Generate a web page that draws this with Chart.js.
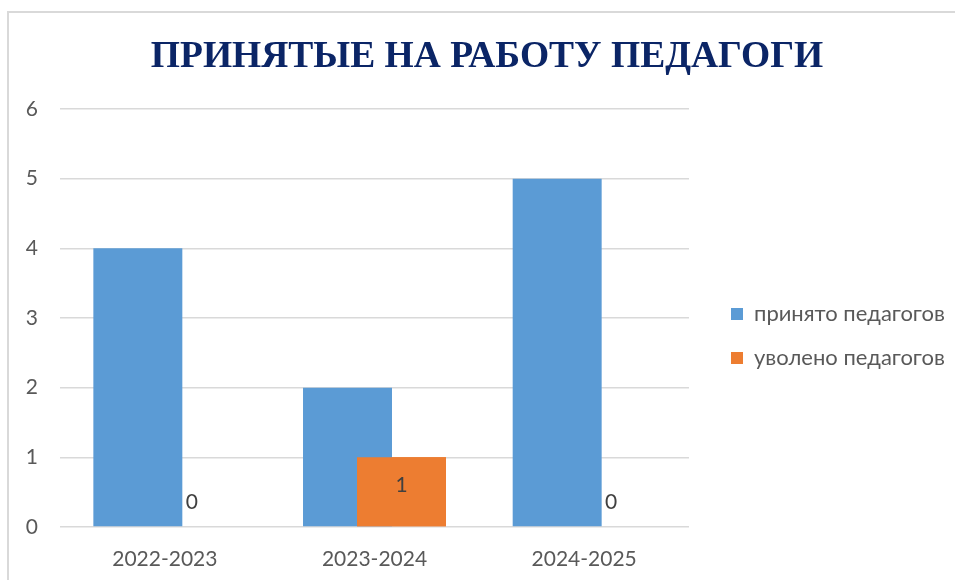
<!DOCTYPE html>
<html>
<head>
<meta charset="utf-8">
<script src="https://cdn.jsdelivr.net/npm/chart.js@4.4.1/dist/chart.umd.min.js"></script>
<style>
  html, body { margin: 0; padding: 0; background: #fff; overflow: hidden; }
  #frame { position: absolute; left: 7px; top: 11px; width: 957px; height: 570px; border: 2px solid #d9d9d9; }
  #chart { display: block; }
</style>
</head>
<body>
<div id="frame"><canvas id="chart" width="957" height="570"></canvas></div>
<script>
const categories = ['2022-2023', '2023-2024', '2024-2025'];
const hiredLabel = 'принято педагогов';
const firedLabel = 'уволено педагогов';
const hired = [4, 2, 5];
const fired = [0, 1, 0];
const yTicks = [0, 1, 2, 3, 4, 5, 6];

const tickFont = { family: 'Lato', size: 21 };
const legendFont = { family: 'Lato', size: 22 };
const grey = '#595959';

// legend width = padding + box + size/2 + text + 10; keeps the legend where it
// sits in the original and the title centred on the frame
const mctx = document.createElement('canvas').getContext('2d');
mctx.font = '22px Lato';
const textW = Math.max(mctx.measureText(hiredLabel).width, mctx.measureText(firedLabel).width);
mctx.font = '21px Lato';
const digitW = mctx.measureText('0').width;
const legendW = 22 + 12 + 11 + textW + 10;
const padRight = 957 - 700 - legendW;
const padLeft = 956 - 700 - legendW;
const yAxisW = 51 - padLeft;

// value labels for the second series only, and that series drawn over the first
const valueLabels = {
  id: 'valueLabels',
  afterDatasetsDraw(chart){
    const ctx = chart.ctx;
    const meta = chart.getDatasetMeta(1);
    meta.controller.draw();
    ctx.save();
    ctx.font = '21px Lato';
    ctx.fillStyle = '#404040';
    ctx.textAlign = 'center';
    ctx.textBaseline = 'middle';
    meta.data.forEach((bar, i) => {
      const v = fired[i];
      const y = v > 0 ? bar.y + 28 : bar.y - 25;
      ctx.fillText(String(v), bar.x, y);
    });
    ctx.restore();
  }
};

new Chart(document.getElementById('chart'), {
  type: 'bar',
  data: {
    labels: categories,
    datasets: [
      { label: hiredLabel, data: hired, backgroundColor: '#5B9BD5', categoryPercentage: 0.515, barPercentage: 1.648 },
      { label: firedLabel, data: fired, backgroundColor: '#ED7D31', categoryPercentage: 0.515, barPercentage: 1.648 }
    ]
  },
  options: {
    responsive: false,
    animation: false,
    layout: { padding: { left: padLeft, right: padRight, top: 0, bottom: 12 } },
    plugins: {
      title: {
        display: true,
        text: 'ПРИНЯТЫЕ НА РАБОТУ ПЕДАГОГИ',
        color: '#0B2566',
        font: { family: 'Liberation Serif', size: 37.5, weight: 'bold' },
        padding: { top: 22, bottom: 29 }
      },
      legend: {
        position: 'right',
        maxWidth: 400,
        title: { display: true, text: '', font: { size: 20 }, padding: { top: 64, bottom: 0 } },
        labels: { boxWidth: 12, boxHeight: 12, padding: 22, color: grey, font: legendFont }
      },
      tooltip: { enabled: false }
    },
    scales: {
      x: {
        grid: { display: false, drawTicks: false },
        border: { display: false },
        ticks: { color: grey, font: tickFont, padding: 20 },
        afterFit: s => { s.height = 44; }
      },
      y: {
        min: 0, max: 6,
        afterBuildTicks: s => { s.ticks = yTicks.map(v => ({ value: v })); },
        grid: { color: '#d9d9d9', lineWidth: 1.5, drawTicks: false },
        border: { display: false },
        ticks: { color: grey, font: tickFont, mirror: true, padding: -(22 + digitW) },
        afterFit: s => { s.width = yAxisW; }
      },
      spacer: {
        position: 'right',
        display: true,
        grid: { display: false },
        border: { display: false },
        ticks: { display: false },
        afterFit: s => { s.width = 20; }
      }
    }
  },
  plugins: [valueLabels]
});
</script>
</body>
</html>
